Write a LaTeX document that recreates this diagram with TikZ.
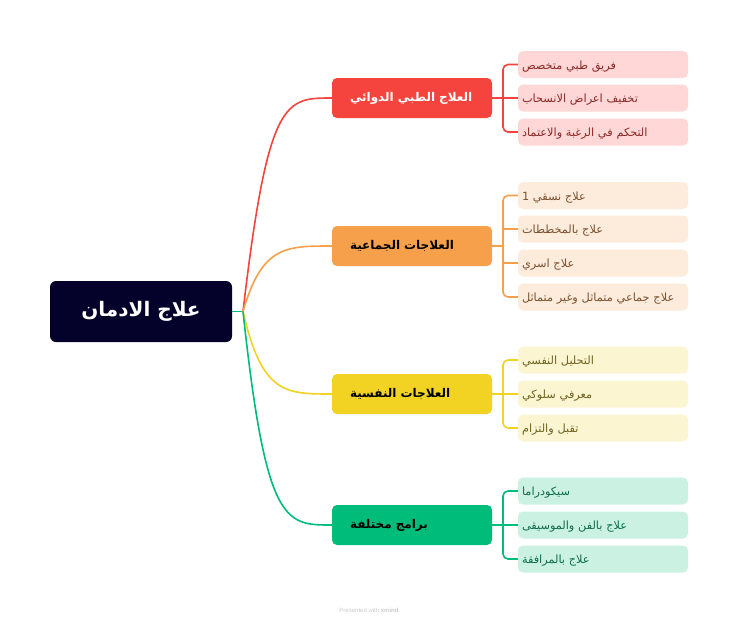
\documentclass[tikz,border=0pt]{standalone}
\usepackage{fontspec}
\setmainfont{Liberation Sans}
\newfontfamily\arabicfont[Script=Arabic]{DejaVu Sans}
\TeXXeTstate=1
\definecolor{rootc}{HTML}{04022B}
\definecolor{redc}{HTML}{F5443E}
\definecolor{redl}{HTML}{FFD7D6}
\definecolor{redt}{HTML}{8A2A27}
\definecolor{orac}{HTML}{F7A04B}
\definecolor{oral}{HTML}{FDEBDB}
\definecolor{orat}{HTML}{7A5230}
\definecolor{yelc}{HTML}{F2D323}
\definecolor{yell}{HTML}{FCF5D2}
\definecolor{yelt}{HTML}{6E6320}
\definecolor{grnc}{HTML}{00BC7B}
\definecolor{grnl}{HTML}{CBF1E3}
\definecolor{grnt}{HTML}{0F6E4A}
\begin{document}
\begin{tikzpicture}[x=1pt,y=-1pt,
  rootbox/.style={fill=rootc, rounded corners=6pt, minimum width=182pt, minimum height=61pt, inner sep=0pt, text=white, font=\arabicfont\bfseries\fontsize{20}{24}\selectfont},
  branchbox/.style={rounded corners=5pt, minimum width=160pt, minimum height=40pt, inner xsep=18pt, inner ysep=0pt, text width=124pt, align=left, font=\arabicfont\bfseries\fontsize{12}{15}\selectfont},
  leafbox/.style={rounded corners=5pt, minimum width=170pt, minimum height=27pt, inner xsep=4pt, inner ysep=0pt, text width=162pt, text height=10.5pt, text depth=1pt, align=left, font=\arabicfont\fontsize{11.3}{13}\selectfont},
  link/.style={line width=1.6pt},
  leaflink/.style={line width=1.6pt, rounded corners=5pt}
]
\path[use as bounding box, fill=white] (0,0) rectangle (738,624);

% root
\node[rootbox] (root) at (141,311.5) {\beginR علاج الادمان\endR};
\coordinate (hub) at (243,311.5);

% branches
\node[branchbox, fill=redc, text=white] (b1) at (412,98) {\beginR العلاج الطبي الدوائي\endR};
\node[branchbox, fill=orac, text=black] (b2) at (412,246) {\beginR العلاجات الجماعية\endR};
\node[branchbox, fill=yelc, text=black] (b3) at (412,394) {\beginR العلاجات النفسية\endR};
\node[branchbox, fill=grnc, text=black] (b4) at (412,525) {\beginR برامج مختلفة\endR};

% leaves branch 1
\node[leafbox, fill=redl, text=redt] (l11) at (603,64.5) {\beginR فريق طبي متخصص\endR};
\node[leafbox, fill=redl, text=redt] (l12) at (603,98) {\beginR تخفيف اعراض الانسحاب\endR};
\node[leafbox, fill=redl, text=redt] (l13) at (603,132) {\beginR التحكم في الرغبة والاعتماد\endR};
% leaves branch 2
\node[leafbox, fill=oral, text=orat] (l21) at (603,195.5) {\beginR علاج نسقي 1\endR};
\node[leafbox, fill=oral, text=orat] (l22) at (603,229) {\beginR علاج بالمخططات\endR};
\node[leafbox, fill=oral, text=orat] (l23) at (603,263) {\beginR علاج اسري\endR};
\node[leafbox, fill=oral, text=orat] (l24) at (603,297) {\beginR علاج جماعي متماثل وغير متماثل\endR};
% leaves branch 3
\node[leafbox, fill=yell, text=yelt] (l31) at (603,360) {\beginR التحليل النفسي\endR};
\node[leafbox, fill=yell, text=yelt] (l32) at (603,394) {\beginR معرفي سلوكي\endR};
\node[leafbox, fill=yell, text=yelt] (l33) at (603,428) {\beginR تقبل والتزام\endR};
% leaves branch 4
\node[leafbox, fill=grnl, text=grnt] (l41) at (603,491) {\beginR سيكودراما\endR};
\node[leafbox, fill=grnl, text=grnt] (l42) at (603,525) {\beginR علاج بالفن والموسيقى\endR};
\node[leafbox, fill=grnl, text=grnt] (l43) at (603,559) {\beginR علاج بالمرافقة\endR};

% root connectors
\draw[link, grnc] (root.east) -- (hub);
\draw[link, redc] (hub) .. controls (268,98) and (285,98) .. (b1.west);
\draw[link, orac] (hub) .. controls (262,246) and (285,246) .. (b2.west);
\draw[link, yelc] (hub) .. controls (262,394) and (285,394) .. (b3.west);
\draw[link, grnc] (hub) .. controls (266,525) and (285,525) .. (b4.west);

% spines
\coordinate (s1) at (503,98);
\coordinate (s2) at (503,246);
\coordinate (s3) at (503,394);
\coordinate (s4) at (503,525);

\draw[link, redc] (b1.east) -- (s1);
\draw[leaflink, redc] (l11.west) -| (s1) |- (l13.west);
\draw[link, redc] (s1) -- (l12.west);

\draw[link, orac] (b2.east) -- (s2);
\draw[leaflink, orac] (l21.west) -| (s2) |- (l24.west);
\draw[link, orac] (l22.west -| s2) -- (l22.west);
\draw[link, orac] (l23.west -| s2) -- (l23.west);

\draw[link, yelc] (b3.east) -- (s3);
\draw[leaflink, yelc] (l31.west) -| (s3) |- (l33.west);
\draw[link, yelc] (s3) -- (l32.west);

\draw[link, grnc] (b4.east) -- (s4);
\draw[leaflink, grnc] (l41.west) -| (s4) |- (l43.west);
\draw[link, grnc] (s4) -- (l42.west);

% footer
\node[text=black!20, font=\fontsize{6}{7}\selectfont] (foot) at (369,610) {Presented with \textbf{xmind}};
\end{tikzpicture}
\end{document}
